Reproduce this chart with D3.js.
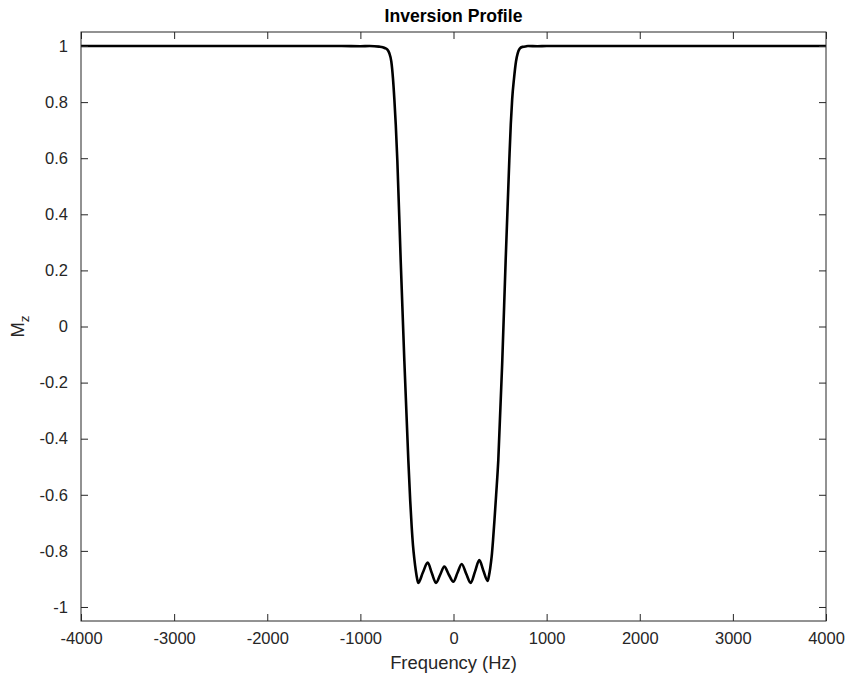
<!DOCTYPE html>
<html>
<head>
<meta charset="utf-8">
<script src="https://cdn.jsdelivr.net/npm/d3@7"></script>
<style>
  html, body { margin: 0; padding: 0; background: #fff; }
  svg { display: block; }
  text { font-family: "Liberation Sans", Arial, Helvetica, sans-serif; fill: #262626; }
</style>
</head>
<body>
<svg id="chart" width="848" height="681"></svg>
<script>
// ---- data ----
const frequencyHz = [
  -4000, -3000, -2000, -1500, -1200, -1000, -900, -800, -760, -740, -712, -690, -668,
  -650, -635, -620, -603, -567, -528, -485, -465, -449, -435, -420, -405, -390, -378,
  -330, -277, -232, -188, -143, -99, -50, -2, 43, 88, 137, 185, 231, 277, 322, 367,
  380, 395, 410, 425, 440, 458, 481, 524, 560, 599, 615, 630, 650, 671, 690, 710, 740, 770,
  800, 900, 1000, 1200, 1500, 2000, 3000, 4000
];
const mzValues = [
  1, 1, 1, 1, 1, 0.999, 1, 0.998, 0.996, 0.993, 0.988, 0.975, 0.945,
  0.885, 0.81, 0.72, 0.591, 0.235, -0.121, -0.477, -0.62, -0.714, -0.78, -0.83, -0.87, -0.90, -0.914,
  -0.878, -0.842, -0.88, -0.914, -0.885, -0.856, -0.885, -0.91, -0.878, -0.847, -0.882, -0.914, -0.874, -0.833, -0.872, -0.907,
  -0.89, -0.86, -0.82, -0.76, -0.69, -0.60, -0.477, -0.121, 0.235, 0.591, 0.72, 0.81, 0.885, 0.945, 0.975, 0.99, 0.997, 0.998,
  1, 0.999, 1, 1, 1, 1, 1, 1
];
const xTicks = [-4000, -3000, -2000, -1000, 0, 1000, 2000, 3000, 4000];
const xTickLabels = ["-4000", "-3000", "-2000", "-1000", "0", "1000", "2000", "3000", "4000"];
const yTicks = [1, 0.8, 0.6, 0.4, 0.2, 0, -0.2, -0.4, -0.6, -0.8, -1];
const yTickLabels = ["1", "0.8", "0.6", "0.4", "0.2", "0", "-0.2", "-0.4", "-0.6", "-0.8", "-1"];
const titleText = "Inversion Profile";
const xLabelText = "Frequency (Hz)";

// ---- layout ----
const svg = d3.select("#chart");
const pL = 81, pR = 826, pT = 32, pB = 621;
const x = d3.scaleLinear().domain([-4000, 4000]).range([pL, pR]);
const y = d3.scaleLinear().domain([-1.05, 1.05]).range([pB, pT]);
const axisColor = "#262626";
const tickLen = 7;

svg.append("defs").append("clipPath").attr("id", "clip")
  .append("rect").attr("x", pL).attr("y", pT)
  .attr("width", pR - pL).attr("height", pB - pT);

// curve
const points = frequencyHz.map((f, i) => [f, mzValues[i]]);
const line = d3.line().x(d => x(d[0])).y(d => y(d[1])).curve(d3.curveMonotoneX);
svg.append("path")
  .datum(points)
  .attr("clip-path", "url(#clip)")
  .attr("d", line)
  .attr("fill", "none")
  .attr("stroke", "#000")
  .attr("stroke-width", 2.6)
  .attr("stroke-linejoin", "round");

// axes (box with inward ticks on all sides)
const xAxisB = d3.axisBottom(x).tickValues(xTicks).tickSizeInner(-tickLen).tickSizeOuter(0)
  .tickPadding(11).tickFormat((d, i) => xTickLabels[i]);
const xAxisT = d3.axisTop(x).tickValues(xTicks).tickSizeInner(-tickLen).tickSizeOuter(0).tickFormat("");
const yAxisL = d3.axisLeft(y).tickValues(yTicks).tickSizeInner(-tickLen).tickSizeOuter(0)
  .tickPadding(13).tickFormat((d, i) => yTickLabels[i]);
const yAxisR = d3.axisRight(y).tickValues(yTicks).tickSizeInner(-tickLen).tickSizeOuter(0).tickFormat("");

function styleAxis(g) {
  g.select(".domain").remove();
  g.selectAll(".tick line").attr("stroke", axisColor).attr("stroke-width", 1);
  g.selectAll(".tick text").attr("fill", axisColor)
    .style("font-family", '"Liberation Sans", Arial, sans-serif').style("font-size", "16.5px");
}
svg.append("g").attr("transform", `translate(0,${pB})`).call(xAxisB).call(styleAxis);
svg.append("g").attr("transform", `translate(0,${pT})`).call(xAxisT).call(styleAxis);
svg.append("g").attr("transform", `translate(${pL},0)`).call(yAxisL).call(styleAxis);
svg.append("g").attr("transform", `translate(${pR},0)`).call(yAxisR).call(styleAxis);

svg.append("rect")
  .attr("x", pL).attr("y", pT).attr("width", pR - pL).attr("height", pB - pT)
  .attr("fill", "none").attr("stroke", axisColor).attr("stroke-width", 1);

// title
svg.append("text")
  .attr("x", (pL + pR) / 2).attr("y", 22)
  .attr("text-anchor", "middle")
  .style("font-size", "17.6px").style("font-weight", "bold")
  .style("fill", "#000")
  .text(titleText);

// x label
svg.append("text")
  .attr("x", (pL + pR) / 2).attr("y", 669)
  .attr("text-anchor", "middle")
  .style("font-size", "18.4px")
  .text(xLabelText);

// y label M_z
const yl = svg.append("text")
  .attr("transform", `translate(24,${(pT + pB) / 2}) rotate(-90)`)
  .attr("text-anchor", "middle")
  .style("font-size", "18.4px");
yl.append("tspan").text("M");
yl.append("tspan").attr("dy", 5).style("font-size", "13.5px").text("z");
</script>
</body>
</html>
